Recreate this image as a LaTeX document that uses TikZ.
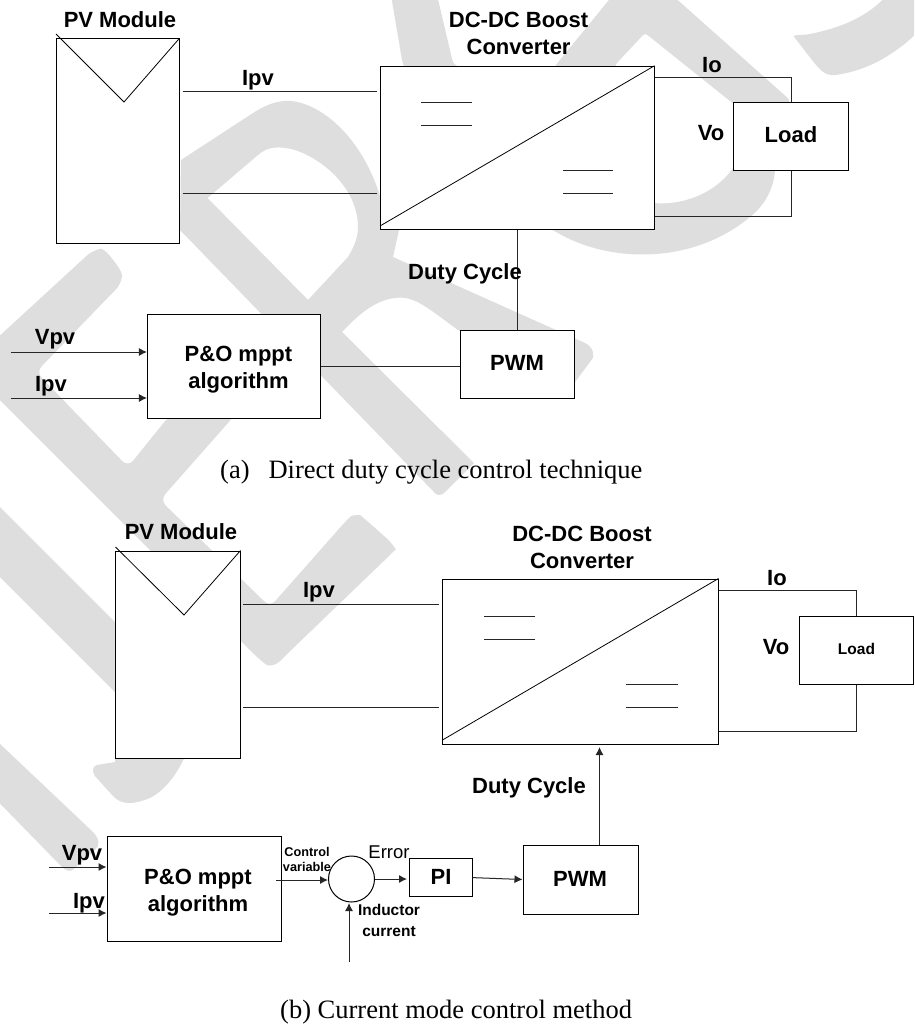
\documentclass[tikz,border=0pt]{standalone}
\usepackage{fontspec}
\setmainfont{Liberation Sans}
\newfontfamily\capfont{Liberation Serif}
\usetikzlibrary{arrows.meta,calc}
\definecolor{wm}{HTML}{DEDEDE}
\tikzset{
  box/.style={draw=black,fill=white,line width=1pt,inner sep=0pt},
  conn/.style={draw=black!85,line width=1pt},
  arr/.style={conn,-{Latex[length=8pt,width=8pt]}},
  lab/.style={font=\fontsize{22}{27}\selectfont\bfseries,align=center,inner sep=0pt,text=black},
  midlab/.style={font=\fontsize{15.5}{21}\selectfont\bfseries,align=center,inner sep=0pt},
  smalllab/.style={font=\fontsize{12.7}{15}\selectfont\bfseries,align=center,inner sep=0pt},
  errlab/.style={font=\fontsize{18.5}{22}\selectfont,inner sep=0pt},
  caplab/.style={font=\capfont\fontsize{26.5}{30}\selectfont,inner sep=0pt,anchor=west},
  wmark/.style={fill=wm,draw=none}
}
\begin{document}
\begin{tikzpicture}[x=1pt,y=-1pt]
\useasboundingbox (0,0) rectangle (914,1025);
\fill[white] (0,0) rectangle (914,1025);
\begin{scope}
\clip (0,0) rectangle (914,1025);
% watermark
\fill[wmark,rounded corners=3pt] (391,-5) -- (402,60) .. controls (420,120) and (480,190) .. (558,233)
  .. controls (610,262) and (690,265) .. (750,217) .. controls (770,200) and (775,180) .. (775,165)
  -- (790,100) -- (672,-5) -- (613,-5) -- (555,66) -- (555,80) -- (615,80) -- (615,65) -- (645,33)
  -- (735,105) -- (735,165) .. controls (715,195) and (680,205) .. (654,203) -- (640,203) -- (453,63) -- (437,-5) -- cycle;
\fill[wmark] (795,38) .. controls (790,34) and (800,36) .. (810,34) .. controls (840,28) and (868,17) .. (887,-5)
  -- (920,-5) -- (920,30) .. controls (890,60) and (860,72) .. (835,75) .. controls (825,76) and (820,70) .. (812,60) -- cycle;
\fill[wmark,even odd rule]
  (181,160) -- (250,115) .. controls (262,107) and (275,100) .. (290,101) .. controls (320,103) and (360,135) .. (379,193)
  .. controls (385,210) and (395,222) .. (399,230) -- (393,257) -- (585,343) .. controls (595,348) and (595,358) .. (590,362)
  -- (575,382) -- (458,330) .. controls (430,310) and (415,295) .. (395,298) .. controls (375,300) and (358,315) .. (342,332)
  -- (474,463) -- (445,492) .. controls (440,497) and (436,495) .. (433,491) -- (180,230) -- cycle
  (207.5,198) -- (258,155) .. controls (268,146) and (280,146) .. (295,150) .. controls (325,160) and (358,190) .. (358,227)
  .. controls (358,240) and (352,250) .. (348,257) -- (308,300) -- cycle;
\fill[wmark,rounded corners=8pt] (-30,363) -- (93,250) .. controls (105,248) and (122,270) .. (122,283) -- (36,372) -- (128,467) -- (170,415) -- (235,415) -- (160,500) -- (270,607) -- (345,522) .. controls (352,515) and (360,515) .. (366,520) -- (392,543) .. controls (395,548) and (395,550) .. (390,555) -- (285,656) .. controls (275,666) and (268,666) .. (260,660) -- (-40,360) -- cycle;
\fill[wmark] (-20,487) -- (160,667) -- (160,737) -- (-20,557) -- cycle;
\fill[wmark] (-20,725) -- (93,832) .. controls (100,840) and (100,845) .. (95,850) -- (75,868) .. controls (70,873) and (66,871) .. (60,865) -- (-20,783) -- cycle;
\fill[wmark] (97,765) .. controls (92,766) and (92,772) .. (95,776) -- (113,796) .. controls (122,806) and (135,804) .. (150,798) .. controls (165,790) and (178,775) .. (190,745) -- (115,745) -- (115,762) -- cycle;
\end{scope}

%%% (a)
\node[box,minimum width=123pt,minimum height=204.5pt] (pvA) at (117.5,141) {};
\coordinate (pvAtl) at (56,34);
\coordinate (pvAv) at (124,102);
\draw[line width=0.8pt] (pvAtl) -- (pvAv) -- (pvA.north east);
\node[box,minimum width=274pt,minimum height=163.5pt] (convA) at (517,148) {};
\draw[line width=0.8pt] (380,226) -- (convA.north east);
\foreach \yy in {102.5,125} \draw[conn] (421,\yy) -- (472,\yy);
\foreach \yy in {170.7,193} \draw[conn] (563,\yy) -- (613,\yy);
\node[box,minimum width=114.5pt,minimum height=68pt] (loadA) at (791,136.5) {};
\node[box,minimum width=114pt,minimum height=68pt] (pwmA) at (517,364) {};
\node[box,minimum width=173.5pt,minimum height=104pt] (poA) at (234.2,366) {};
\coordinate (ipvAa) at (182.5,91);
\coordinate (ipvAb) at (377,91);
\coordinate (retAa) at (182.5,193);
\coordinate (retAb) at (377,193);
\draw[conn] (ipvAa) -- (ipvAb);
\draw[conn] (retAa) -- (retAb);
\draw[conn] (convA.east |- 0,77) -| (loadA.north);
\draw[conn] (loadA.south) |- (convA.east |- 0,216);
\draw[conn] (convA.south) -- (pwmA.north);
\draw[conn] (poA.east) -- (pwmA.west |- poA.east);
\coordinate (vpvA) at (10.5,352);
\coordinate (ipvAc) at (10.5,398);
\draw[arr] (vpvA) -- (poA.west |- vpvA);
\draw[arr] (ipvAc) -- (poA.west |- ipvAc);
\node[lab] (tpvA) at (120,19.5) {PV Module};
\node[lab] (tconvA) at (518.6,33.5) {DC-DC Boost\\Converter};
\node[lab] (tipvA) at (258,80) {Ipv};
\node[lab] (tioA) at (712,65) {Io};
\node[lab] (tvoA) at (711,133) {Vo};
\node[lab] (tloadA) at (791,135) {Load};
\node[lab] (tdutyA) at (465,273.5) {Duty Cycle};
\node[lab] (tvpvA) at (55,339) {Vpv};
\node[lab] (tipvAc) at (51,386) {Ipv};
\node[lab] (tpoA) at (238.5,370) {P\&O mppt\\algorithm};
\node[lab] (tpwmA) at (517,363) {PWM};
\node[caplab] (capA) at (220,472) {(a)\hspace{19pt}Direct duty cycle control technique};

%%% (b)
\node[box,minimum width=124.5pt,minimum height=207pt] (pvB) at (177.75,654.5) {};
\coordinate (pvBtl) at (115.5,547);
\coordinate (pvBv) at (184,615);
\draw[line width=0.8pt] (pvBtl) -- (pvBv) -- (pvB.north east);
\node[box,minimum width=275.5pt,minimum height=165.5pt] (convB) at (580.25,661.75) {};
\draw[line width=0.8pt] (442.5,740) -- (convB.north east);
\foreach \yy in {616,639} \draw[conn] (484,\yy) -- (535,\yy);
\foreach \yy in {684,707} \draw[conn] (626,\yy) -- (677.5,\yy);
\node[box,minimum width=114.5pt,minimum height=68pt] (loadB) at (856.25,650) {};
\node[box,minimum width=115.5pt,minimum height=69pt] (pwmB) at (580.75,879.5) {};
\node[box,minimum width=63pt,minimum height=38pt] (piB) at (440.5,877.6) {};
\node[box,minimum width=174.5pt,minimum height=104.5pt] (poB) at (194.25,888.75) {};
\node[draw=black,fill=white,line width=1pt,circle,minimum size=46pt,inner sep=0pt] (sumB) at (351.5,879) {};
\coordinate (ipvBa) at (243,604.5);
\coordinate (ipvBb) at (439,604.5);
\coordinate (retBa) at (243,707);
\coordinate (retBb) at (439,707);
\draw[conn] (ipvBa) -- (ipvBb);
\draw[conn] (retBa) -- (retBb);
\draw[conn] (convB.east |- 0,590) -| (loadB.north);
\draw[conn] (loadB.south) |- (convB.east |- 0,731);
\coordinate (dutyB) at (599.5,747);
\draw[arr] (pwmB.north -| dutyB) -- (dutyB);
\coordinate (vpvB) at (49,867);
\coordinate (ipvBc) at (49,913);
\draw[arr] (vpvB) -- (poB.west |- vpvB);
\draw[arr] (ipvBc) -- (poB.west |- ipvBc);
\coordinate (ctrlB) at (276,880);
\draw[arr] (ctrlB) -- (sumB.west |- ctrlB);
\draw[arr] (sumB.east) -- ($(piB.west)+(-1.5,1.4)$);
\draw[arr] (piB.east) -- (pwmB.west);
\coordinate (indB) at (349,961.5);
\draw[arr] (indB) -- (349,903);
\node[lab] (tpvB) at (181,532) {PV Module};
\node[lab] (tconvB) at (582,547) {DC-DC Boost\\Converter};
\node[lab] (tipvB) at (319,592) {Ipv};
\node[lab] (tioB) at (777,578) {Io};
\node[lab] (tvoB) at (776,647) {Vo};
\node[midlab] (tloadB) at (856.5,649) {Load};
\node[lab] (tdutyB) at (529,787.5) {Duty Cycle};
\node[lab] (tvpvB) at (82,855) {Vpv};
\node[lab] (tipvBc) at (89,903) {Ipv};
\node[errlab] (terrB) at (389,852) {Error};
\node[lab] (tpiB) at (441,877) {PI};
\node[lab] (tpwmB) at (580,879) {PWM};
\node[lab] (tpoB) at (198,892.5) {P\&O mppt\\algorithm};
\node[smalllab] (tctrlB) at (307,859) {Control\\variable};
\node[midlab] (tindB) at (389,920.5) {Inductor\\current};
\node[caplab] (capB) at (280,1012) {(b) Current mode control method};
\end{tikzpicture}
\end{document}
